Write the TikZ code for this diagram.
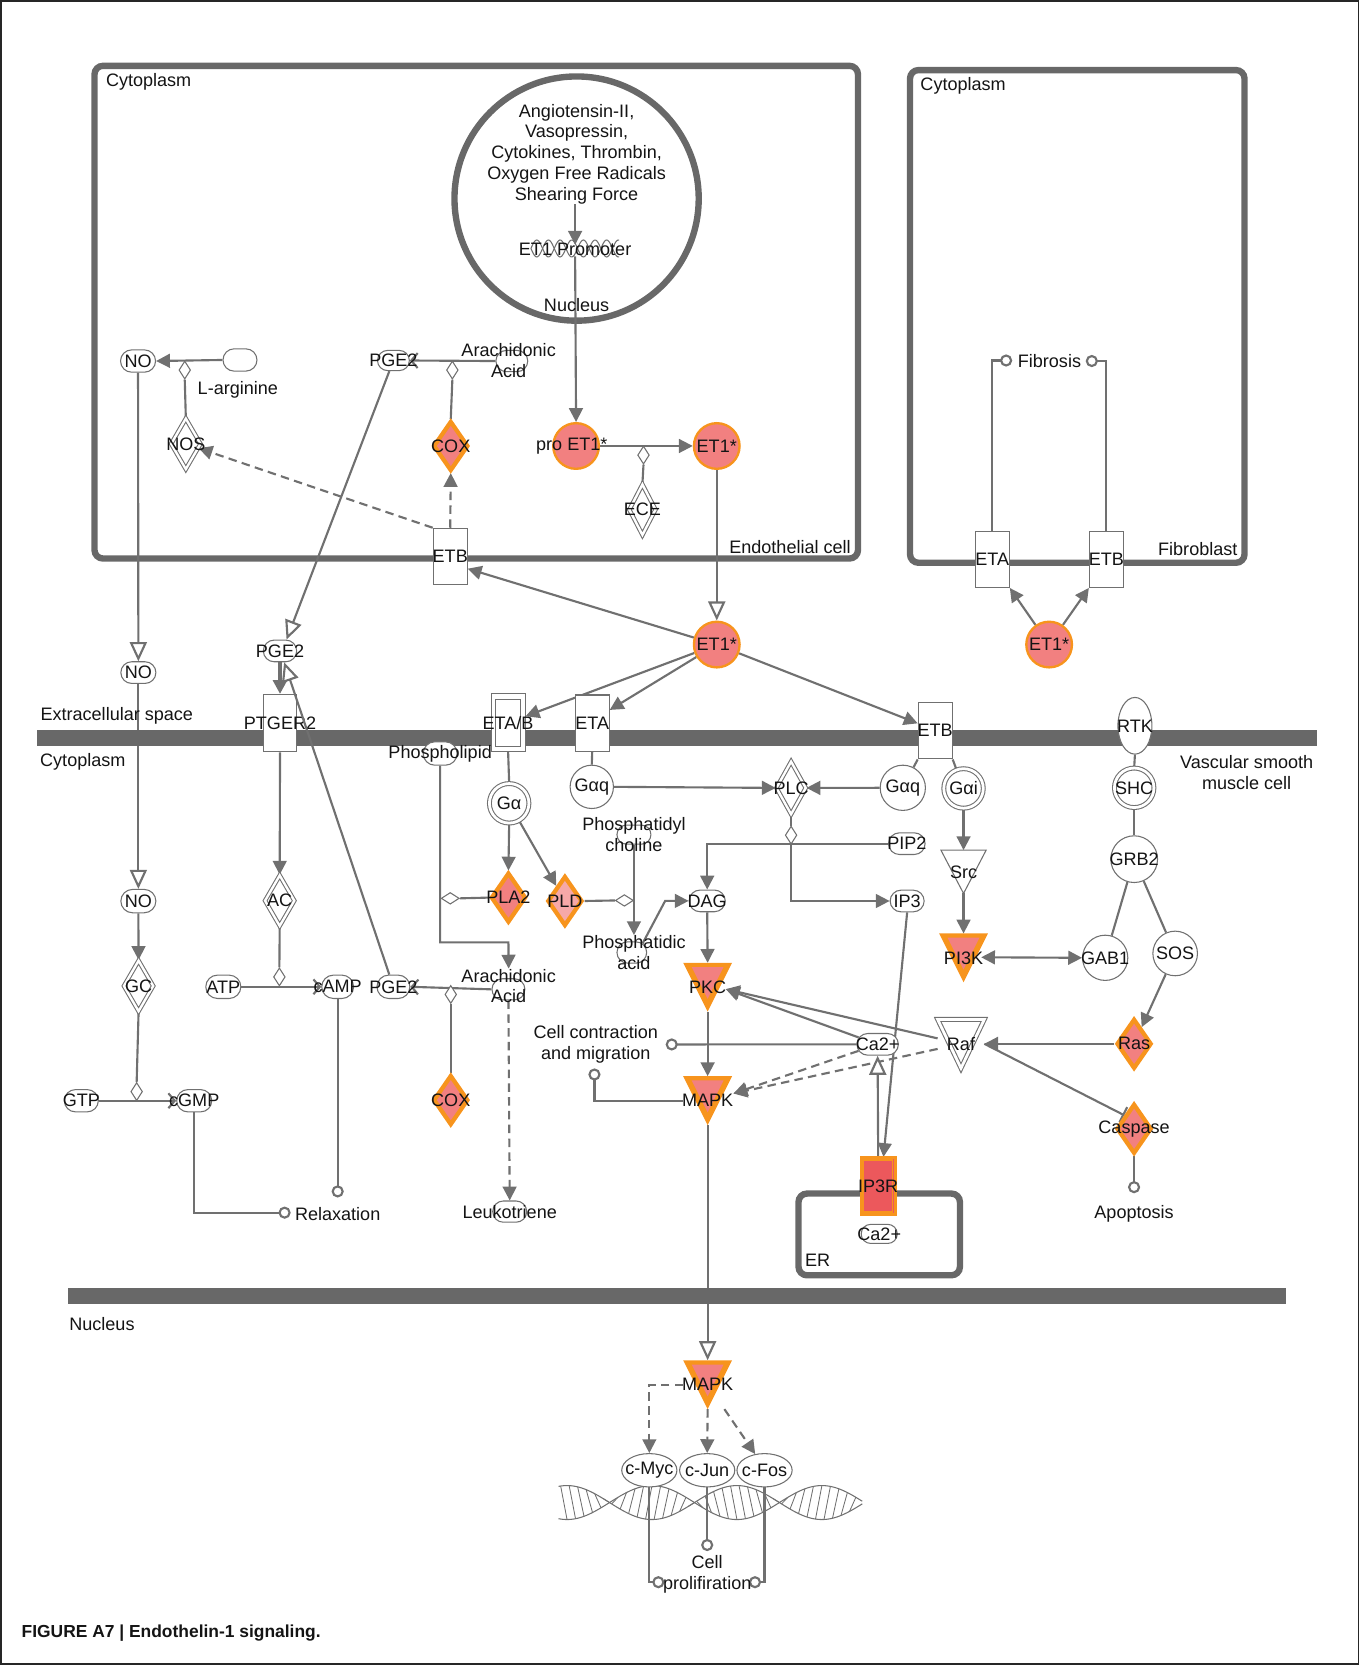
\documentclass[tikz,border=0pt]{standalone}
\usepackage{fontspec}
\setmainfont{Liberation Sans}
\usetikzlibrary{shapes.geometric,shapes.misc,arrows.meta,calc}
\pgfdeclarelayer{bg}
\pgfdeclarelayer{mem}
\pgfdeclarelayer{fg}
\pgfsetlayers{bg,mem,main,fg}
\definecolor{lg}{RGB}{112,112,112}
\definecolor{bx}{RGB}{104,104,104}
\definecolor{orng}{RGB}{247,148,29}
\definecolor{salm}{RGB}{242,128,128}
\definecolor{lpink}{RGB}{246,168,168}
\definecolor{ipred}{RGB}{236,88,92}
\definecolor{txtc}{RGB}{20,20,20}
\tikzset{
  inv/.style={rectangle,draw=none,inner sep=0pt,outer sep=0pt},
  txt/.style={inner sep=0pt,align=center},
  oval/.style={rounded rectangle,draw=lg,line width=0.5pt,fill=white,inner sep=0pt,minimum width=16pt,minimum height=10pt},
  circ/.style={circle,draw=lg,line width=0.5pt,fill=white,inner sep=0pt,minimum size=21pt},
  dcirc/.style={circle,draw=lg,line width=0.5pt,double=white,double distance=1.3pt,fill=white,inner sep=0pt,minimum size=18.6pt},
  rbox/.style={rectangle,draw=lg,line width=0.5pt,fill=white,inner sep=0pt,minimum width=16pt,minimum height=26.5pt},
  ddiam/.style={diamond,draw=lg,line width=0.5pt,double=white,double distance=1.1pt,fill=white,inner sep=0pt,minimum width=14pt,minimum height=24pt},
  sdv/.style={diamond,draw=lg,line width=0.5pt,fill=white,inner sep=0pt,minimum width=5.5pt,minimum height=8.5pt},
  sdh/.style={diamond,draw=lg,line width=0.5pt,fill=white,inner sep=0pt,minimum width=8.5pt,minimum height=5.5pt},
  odiam/.style={diamond,draw=orng,line width=2pt,fill=salm,inner sep=0pt,minimum width=16.5pt,minimum height=23.5pt},
  etc/.style={circle,draw=orng,line width=1.1pt,fill=salm,inner sep=0pt,minimum size=21.5pt},
  ell/.style={ellipse,draw=lg,line width=0.5pt,fill=white,inner sep=0pt,minimum width=26pt,minimum height=15.7pt},
  ln/.style={draw=lg,line width=1pt},
  arr/.style={ln,-{Triangle[length=6.5pt,width=6.5pt]}},
  darr/.style={ln,{Triangle[length=6.5pt,width=6.5pt]}-{Triangle[length=6.5pt,width=6.5pt]}},
  oarr/.style={ln,-{Triangle[open,length=9pt,width=8pt,fill=white]}},
  barb/.style={ln,-{Straight Barb[length=3pt,width=7pt]}},
  dsh/.style={dash pattern=on 4pt off 2.5pt},
  cend/.style={ln,-{Circle[open,length=5.7pt,fill=white]}},
  inh/.style={ln,-{Bar[width=8pt]}},
  cellbox/.style={draw=bx,line width=3pt,rounded corners=4pt},
}
\newcommand\nlab[2]{\node[txt] (#1t) at (#1) {#2};}
\newcommand\otri[5]{%
  \node[inv,minimum width=23pt,minimum height=23pt] (#1) at (#2,#3+23) {};
  \fill[orng] (#1.north west) -- (#1.north east) -- (#1.south) -- cycle;
  \fill[#5] ($(#1.north west)+(8,4)$) -- ($(#1.north east)+(-8,4)$) -- ($(#1.south)+(0,-12)$) -- cycle;
  \node[txt] (#1t) at (#1) {#4};}
\begin{document}
\begin{tikzpicture}[x=0.5pt,y=-0.5pt,font=\fontsize{8.5}{9.75}\selectfont,text=txtc]
\useasboundingbox (0,0) rectangle (1280,1568);

% ---------- compartments
\begin{pgfonlayer}{bg}
\draw[black!85,line width=0.6pt] (1,1) rectangle (1279,1567);
\draw[cellbox] (89,62) rectangle (808,526);
\draw[cellbox] (857,66) rectangle (1172,530);
\draw[bx,line width=3pt] (543,187) circle[radius=115];
\draw[cellbox] (752,1124) rectangle (904,1201);
\end{pgfonlayer}
\begin{pgfonlayer}{mem}
\fill[bx] (35,687) rectangle (1240,703);
\fill[bx] (64,1213) rectangle (1211,1228);
\end{pgfonlayer}

\node[txt] (tcy1) at (140,77) {Cytoplasm};
\node[txt] (tendo) at (744,515) {Endothelial cell};
\node[txt] (tcy2) at (907,81) {Cytoplasm};
\node[txt] (tfib) at (1128,517) {Fibroblast};
\node[txt] (textra) at (110,674) {Extracellular space};
\node[txt] (tcy3) at (78,717) {Cytoplasm};
\node[txt] (tvsmc) at (1174,727.5) {Vascular smooth\\muscle cell};
\node[txt] (tnuc2) at (96,1247) {Nucleus};
\node[txt] (ter) at (770,1187) {ER};
\node[anchor=west,inner sep=0pt,font=\fontsize{8.2}{10}\selectfont\bfseries] (title) at (20,1538) {FIGURE A7 | Endothelin-1 signaling.};

% ---------- nucleus of endothelial cell
\node[txt] (stim) at (543,145) {Angiotensin-II,\\Vasopressin,\\Cytokines, Thrombin,\\Oxygen Free Radicals\\Shearing Force};
\node[txt] (prom) at (541.6,234.5) {ET1 Promoter};
\node[txt] (tnuc1) at (543,287) {Nucleus};

% ---------- endothelial cytoplasm
\node[oval,minimum width=16.5pt,minimum height=10.5pt] (no1) at (130,340) {}; \nlab{no1}{NO}
\node[oval,minimum width=16pt,minimum height=10.5pt] (larg) at (226,339) {};
\node[txt] (largt) at (224,367) {L-arginine};
\node[sdv] (md1) at (174,348.5) {};
\node[ddiam] (nos) at (175,418) {}; \nlab{nos}{NOS}
\node[oval,minimum width=15pt,minimum height=9.5pt] (pge2a) at (370.5,339.5) {}; \nlab{pge2a}{PGE2}
\node[oval,minimum width=15pt] (araa) at (482,340) {};
\node[txt] (araat) at (479,339.5) {Arachidonic\\Acid};
\node[sdv] (md2) at (426,348.5) {};
\node[odiam] (cox1) at (424.5,420) {}; \nlab{cox1}{COX}
\node[etc] (proet1) at (542.5,420) {};
\node[txt] (proet1t) at (538.5,420.5) {pro ET1*};
\node[etc] (et1a) at (675,420) {}; \nlab{et1a}{ET1*}
\node[sdv] (md3) at (606,428.6) {};
\node[ddiam,minimum width=12.5pt] (ece) at (605,480) {}; \nlab{ece}{ECE}
\node[rbox] (etb1) at (424,524) {}; \nlab{etb1}{ETB}

% ---------- fibroblast
\node[etc] (et1c) at (988,607) {}; \nlab{et1c}{ET1*}
\node[rbox] (etaf) at (934.5,526.7) {}; \nlab{etaf}{ETA}
\node[rbox] (etbf) at (1041.9,526.7) {}; \nlab{etbf}{ETB}
\node[txt] (fibt) at (988.3,340) {Fibrosis};
\coordinate (fibl) at (953.2,339.5);
\coordinate (fibr) at (1022.5,340);

% ---------- extracellular space
\node[etc] (et1b) at (675,607) {}; \nlab{et1b}{ET1*}
\node[oval,minimum width=15.7pt,minimum height=10.2pt] (pge2b) at (263.7,613) {}; \nlab{pge2b}{PGE2}
\node[oval,minimum width=16.5pt,minimum height=10.2pt] (no2) at (130.3,633.4) {}; \nlab{no2}{NO}

% ---------- receptors
\node[rbox,minimum width=15.7pt,minimum height=27pt] (ptger) at (263.7,681) {}; \nlab{ptger}{PTGER2}
\node[rbox,minimum height=27pt] (etab) at (478.5,680.5) {};
\draw[lg,line width=0.5pt] ($(etab.north west)+(5,6)$) rectangle ($(etab.south east)+(-5,-5)$);
\nlab{etab}{ETA/B}
\node[rbox] (eta) at (557.7,681) {}; \nlab{eta}{ETA}
\node[rbox] (etb2) at (880.7,688.2) {}; \nlab{etb2}{ETB}
\node[ellipse,draw=lg,line width=0.5pt,fill=white,inner sep=0pt,minimum width=16pt,minimum height=26.7pt] (rtk) at (1068.8,683.5) {}; \nlab{rtk}{RTK}

% ---------- VSMC cytoplasm
\node[oval,minimum width=16pt,minimum height=11pt] (phl) at (414.5,709.6) {}; \nlab{phl}{Phospholipid}
\node[dcirc] (ga) at (479.5,756.5) {}; \nlab{ga}{Gα}
\node[circ,minimum size=20.4pt] (gaq1) at (557.3,741) {}; \nlab{gaq1}{Gαq}
\node[ddiam,minimum height=25pt] (plc) at (745,742) {}; \nlab{plc}{PLC}
\node[circ,minimum size=21.3pt] (gaq2) at (850.2,741.9) {}; \nlab{gaq2}{Gαq}
\node[dcirc] (gai) at (907.4,742.5) {}; \nlab{gai}{Gαi}
\node[dcirc] (shc) at (1068.1,741.9) {}; \nlab{shc}{SHC}
\node[oval,minimum width=16pt,minimum height=9pt] (pcho) at (597,786) {};
\node[txt] (pchot) at (597,786) {Phosphatidyl\\choline};
\node[sdv] (mdplc) at (745,786.5) {};
\node[oval,minimum width=17.2pt,minimum height=10.2pt] (pip2) at (854,794.5) {}; \nlab{pip2}{PIP2}
\node[circ,minimum size=22pt] (grb2) at (1068.1,809.1) {}; \nlab{grb2}{GRB2}
\node[inv,minimum width=21.3pt,minimum height=20.4pt] (src) at (907.4,821) {};
\draw[lg,line width=0.5pt,fill=white] (src.north west) -- (src.north east) -- (src.south) -- cycle;
\nlab{src}{Src}
\node[oval,minimum width=16.5pt,minimum height=11pt] (no3) at (130.3,848.6) {}; \nlab{no3}{NO}
\node[ddiam] (ac) at (263.4,848.2) {}; \nlab{ac}{AC}
\node[odiam] (pla2) at (478.8,845.3) {}; \nlab{pla2}{PLA2}
\node[odiam,fill=lpink] (pld) at (532,848.5) {}; \nlab{pld}{PLD}
\node[sdh] (mdpla2) at (424,846) {};
\node[sdh] (mdpld) at (588,848) {};
\node[oval,minimum width=17pt,minimum height=10.2pt] (dag) at (666,848.4) {}; \nlab{dag}{DAG}
\node[oval,minimum width=16pt,minimum height=10.2pt] (ip3) at (854.3,848.5) {}; \nlab{ip3}{IP3}
\otri{pi3k}{907.4}{879.1}{PI3K}{salm}
\node[circ,minimum size=21.3pt] (gab1) at (1040.8,902) {}; \nlab{gab1}{GAB1}
\node[circ,minimum size=21pt] (sos) at (1106.7,897.9) {}; \nlab{sos}{SOS}
\node[oval,minimum width=14pt,minimum height=10pt] (pacid) at (595,897) {};
\node[txt] (pacidt) at (597,897) {Phosphatidic\\acid};
\node[ddiam] (gc) at (130.5,928.5) {}; \nlab{gc}{GC}
\node[oval,minimum width=16.5pt,minimum height=11pt] (atp) at (210.3,929.3) {}; \nlab{atp}{ATP}
\node[sdv] (mdac) at (263.1,920) {};
\node[oval,minimum width=15pt,minimum height=11pt] (camp) at (318,929.3) {}; \nlab{camp}{cAMP}
\node[oval,minimum width=15.5pt,minimum height=11pt] (pge2c) at (370.5,929.3) {}; \nlab{pge2c}{PGE2}
\node[oval,minimum width=15.5pt,minimum height=10pt] (arab) at (478.8,931.7) {};
\node[txt] (arabt) at (479,928.5) {Arachidonic\\Acid};
\node[sdv] (mdcox) at (424.5,936.5) {};
\otri{pkc}{666.4}{906.7}{PKC}{salm}
\node[oval,minimum width=19.5pt,minimum height=10.2pt] (ca2a) at (826.5,983.5) {}; \nlab{ca2a}{Ca2+}
\node[inv,minimum width=22pt,minimum height=23pt] (raf) at (905,983) {};
\draw[lg,line width=0.5pt,double=white,double distance=1.3pt,fill=white] (raf.north west) -- (raf.north east) -- (raf.south) -- cycle;
\nlab{raf}{Raf}
\node[odiam] (ras) at (1068,983) {}; \nlab{ras}{Ras}
\node[txt] (cct) at (561,983.4) {Cell contraction\\and migration};
\node[odiam] (cox2) at (424.5,1036) {}; \nlab{cox2}{COX}
\node[oval,minimum width=16pt,minimum height=10.5pt] (gtp) at (76.6,1036.6) {}; \nlab{gtp}{GTP}
\node[sdv] (mdgc) at (128.7,1028) {};
\node[oval,minimum width=16.5pt,minimum height=10.5pt] (cgmp) at (182.9,1036.6) {}; \nlab{cgmp}{cGMP}
\otri{mapka}{666.4}{1013.5}{MAPK}{salm}
\node[odiam] (casp) at (1068,1063) {}; \nlab{casp}{Caspase}
\node[rectangle,fill=ipred,draw=orng,line width=1.5pt,inner sep=0pt,minimum width=16pt,minimum height=27pt] (ip3r) at (827,1117) {};
\draw[orng,line width=0.6pt] ($(ip3r.north west)+(4,4)$) rectangle ($(ip3r.south east)+(-4,-4)$);
\nlab{ip3r}{IP3R}
\node[oval,minimum width=17pt,minimum height=9pt] (ca2b) at (828,1162) {}; \nlab{ca2b}{Ca2+}
\node[oval,minimum width=16pt,minimum height=10pt] (leuk) at (480,1141) {}; \nlab{leuk}{Leukotriene}
\node[txt] (relt) at (318,1143) {Relaxation};
\node[txt] (apopt) at (1068,1143) {Apoptosis};
\coordinate (rxa) at (273.7,1142);
\coordinate (rxb) at (318,1127.7);
\coordinate (apc) at (1068,1123.7);
\coordinate (cca) at (626.9,983.6);
\coordinate (ccb) at (559.8,1006.2);

% ---------- nucleus of VSMC
\otri{mapkb}{666.4}{1281}{MAPK}{salm}
\node[ell] (cmyc) at (611.5,1384.6) {}; \nlab{cmyc}{c-Myc}
\node[ell] (cjun) at (666,1384.6) {}; \nlab{cjun}{c-Jun}
\node[ell] (cfos) at (720,1384.6) {}; \nlab{cfos}{c-Fos}
\node[txt] (prolt) at (666,1482.5) {Cell\\prolifiration};
\coordinate (pfa) at (625.7,1490);
\coordinate (pfb) at (666,1460.7);
\coordinate (pfc) at (705.3,1490);

% ---------- connectors
\coordinate (phlc) at (478.8,887.5);
\coordinate (pak) at (626.4,848.4);
\coordinate (jp) at (745,794.5);
\coordinate (pi3kr) at (924,901.5);
\coordinate (pkcr) at (683.5,931.5);
\coordinate (mapkr) at (690.7,1029.8);
\coordinate (ip3in) at (832,1089.5);
\begin{pgfonlayer}{bg}
\draw[lg,line width=0.5pt] plot[domain=500:583,samples=80] (\x,{234+8*sin((\x-500)*16.4)});
\draw[lg,line width=0.5pt] plot[domain=500:583,samples=80] (\x,{234-8*sin((\x-500)*16.4)});
\foreach \s in {1,-1}
  \draw[lg,line width=0.5pt] plot[domain=526:812,samples=120] (\x,{1415+\s*16*sin((\x-574)*2.25)});
\foreach \x in {528,536,...,804}
  \draw[lg,line width=0.4pt] (\x,{1415+16*sin((\x-574)*2.25)}) -- ({\x+6},{1415-16*sin((\x+6-574)*2.25)});
\draw[arr] (stim.south -| prom.center) -- ($(prom.center)+(0,-4)$);
\draw[arr] ($(prom.center)+(0,7)$) -- (proet1.north);
\draw[arr] (larg.west) -- (no1.east);
\draw[ln] (md1.south) -- (nos.north);
\draw[barb] (araa.west) -- (pge2a.east);
\draw[ln] (md2.south) -- (cox1.north);
\draw[arr,dsh] (etb1.north) -- (cox1.south);
\draw[arr,dsh] (etb1.north west) -- (nos);
\draw[arr] (proet1.east) -- (et1a.west);
\draw[ln] (md3.south) -- (ece.north);
\draw[oarr] (et1a.south) -- (et1b.north);
\draw[arr] (et1b) -- (etb1.-35);
\draw[arr] (et1b) -- (etab.20);
\draw[arr] (et1b) -- (eta.37);
\draw[arr] (et1b) -- (etb2.157);
\draw[arr] (et1c) -- (etaf.south east);
\draw[arr] (et1c) -- (etbf.south west);
\draw[cend] (etaf.north) |- (fibl);
\draw[cend] (etbf.north) |- (fibr);
\draw[oarr] (no1.south) -- (no2.north);
\draw[oarr] (no2.south) -- (no3.north);
\draw[arr] (no3.south) -- (gc.north);
\draw[ln] (gc.south) -- (mdgc.north);
\draw[barb] (gtp.east) -- (cgmp.west);
\draw[cend] (cgmp.south) |- (rxa);
\draw[oarr] (pge2a) -- (pge2b.60);
\draw[arr,line width=2pt] (pge2b.south) -- (ptger.north);
\draw[arr] (ptger.south) -- (ac.north);
\draw[ln] (ac.south) -- (mdac.north);
\draw[barb] (atp.east) -- (camp.west);
\draw[cend] (camp.south) -- (rxb);
\draw[barb] (arab.west) -- (pge2c.east);
\draw[ln] (mdcox.south) -- (cox2.north);
\draw[arr,dsh] (arab.south) -- (leuk.north);
\draw[arr] (phl.south) |- (phlc) -- (arabt.north);
\draw[ln] (pla2.west) -- (mdpla2.east);
\draw[ln] (etab.south) -- (ga.north);
\draw[arr] (ga.south) -- (pla2.north);
\draw[arr] (ga) -- (pld);
\draw[ln] (pld.east) -- (mdpld.west);
\draw[arr] (pcho.south) -- (pacidt.north);
\draw[arr] (pacid.40) -- (pak) -- (dag.west);
\draw[ln] (plc.south) -- (mdplc.north);
\draw[arr] (pip2.west) -| (dag.north);
\draw[arr] (jp) |- (ip3.west);
\draw[arr] (gaq1.east) -- (plc.west);
\draw[arr] (gaq2.west) -- (plc.east);
\draw[ln] (eta.south) -- (gaq1.north);
\draw[ln] (etb2.south west) -- (gaq2);
\draw[ln] (etb2.south east) -- (gai);
\draw[ln] (rtk.south) -- (shc.north);
\draw[ln] (shc.south) -- (grb2.north);
\draw[ln] (grb2) -- (gab1);
\draw[ln] (grb2) -- (sos);
\draw[arr] (gai.south) -- (src.north);
\draw[arr] (src.south) -- (pi3k.north);
\draw[darr] (pi3kr) -- (gab1.west);
\draw[arr] (sos) -- (ras);
\draw[arr] (dag.south) -- (pkc.north);
\draw[arr] (pkc.south) -- (mapka.north);
\draw[arr] (ca2a) -- (pkcr);
\draw[arr] (raf) -- (pkcr);
\draw[arr] (ras) -- (raf.east);
\draw[inh] (raf.east) -- (casp.north west);
\draw[cend] (ca2a.west) -- (cca);
\draw[cend] (mapka.west) -| (ccb);
\draw[arr,dsh] (ca2a) -- (mapkr);
\draw[arr,dsh] (raf) -- (mapkr);
\draw[arr] (ip3.south) -- (ip3in);
\draw[oarr] (ip3r.north) -- (ca2a.south);
\draw[cend] (casp.south) -- (apc);
\draw[oarr] (mapka.south) -- (mapkb.north);
\draw[arr,dsh] (mapkb.west) -| (cmyc.north);
\draw[arr,dsh] (mapkb.south) -- (cjun.north);
\draw[arr,dsh] (mapkb) -- (cfos.120);
\draw[cend] (cmyc.south) |- (pfa);
\draw[cend] (cjun.south) -- (pfb);
\draw[cend] (cfos.south) |- (pfc);
\end{pgfonlayer}
\begin{pgfonlayer}{fg}
\draw[oarr] (pge2c) -- (pge2b.-70);
\end{pgfonlayer}
\end{tikzpicture}
\end{document}
